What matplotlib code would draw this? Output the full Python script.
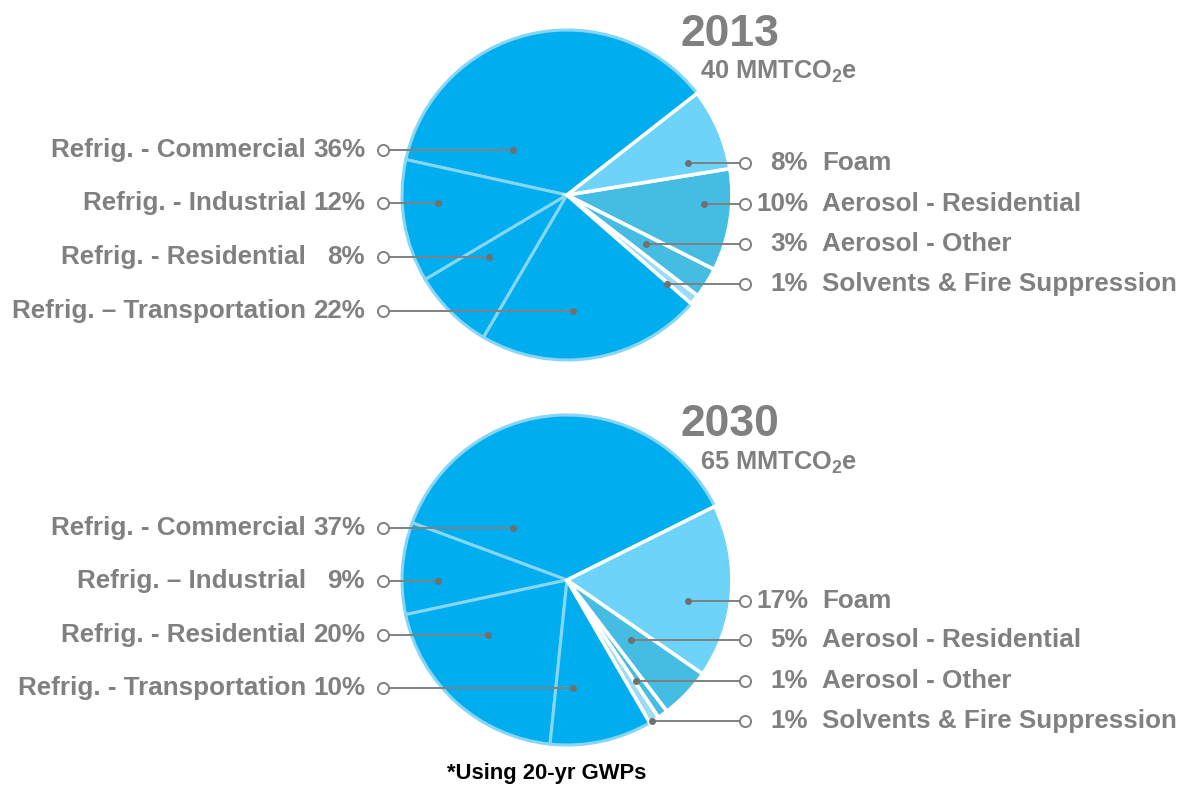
import matplotlib
matplotlib.use('Agg')
import matplotlib.pyplot as plt

plt.rcParams['font.family'] = ['Liberation Sans', 'DejaVu Sans']
plt.rcParams['font.weight'] = 'bold'
plt.rcParams['mathtext.fontset'] = 'custom'
plt.rcParams['mathtext.rm'] = 'Liberation Sans:bold'

# Data
years = ['2013', '2030']
totals = ['40 MMTCO$_\\mathrm{2}$e', '65 MMTCO$_\\mathrm{2}$e']
sectors = ['Commercial', 'Industrial', 'Residential', 'Transportation',
           'Solvents & Fire Suppression', 'Aerosol - Other', 'Aerosol - Residential', 'Foam']
share_2013 = [36, 12, 8, 22, 1, 3, 10, 8]
share_2030 = [37, 9, 20, 10, 1, 1, 5, 17]
left_names_2013 = ['Refrig. - Commercial', 'Refrig. - Industrial', 'Refrig. - Residential', 'Refrig. \u2013 Transportation']
left_names_2030 = ['Refrig. - Commercial', 'Refrig. \u2013 Industrial', 'Refrig. - Residential', 'Refrig. - Transportation']
right_names = ['Foam', 'Aerosol - Residential', 'Aerosol - Other', 'Solvents & Fire Suppression']
footnote = '*Using 20-yr GWPs'

# colours
blue = '#00aeef'
colors = [blue, blue, blue, blue, '#9adcf4', '#45bde2', '#45bde2', '#6ed3f8']
edges = ['#86d6f4'] * 4 + ['white'] * 4
gray = '#808080'
fs = 18.7

W, H = 1179, 786
fig = plt.figure(figsize=(W / 100, H / 100), dpi=100)
ax = fig.add_axes([0, 0, 1, 1])

def py(y):
    return H - y

# layout (pixel rows of the callouts)
layout = [
    dict(cy=195, start=38, title_y=35, total_y=72,
         left_y=[150, 203, 257, 311], left_dot=[513, 438, 489, 573],
         right_y=[163, 204, 244, 284], right_dot=[688, 704, 646, 667]),
    dict(cy=580, start=26.5, title_y=425, total_y=463,
         left_y=[528, 581, 635, 688], left_dot=[513, 438, 488, 573],
         right_y=[601, 640, 681, 721], right_dot=[688, 631, 636, 652]),
]
shares = [share_2013, share_2030]
left_names = [left_names_2013, left_names_2030]

for k, lay in enumerate(layout):
    vals = shares[k]
    wedges, _ = ax.pie(vals, colors=colors, startangle=lay['start'], counterclock=True,
                       center=(567, py(lay['cy'])), radius=165, frame=True)
    for w, ec in zip(wedges, edges):
        w.set_edgecolor(ec)
        w.set_linewidth(2.2 if ec != 'white' else 2.6)
    # left callouts (refrigeration, order commercial..transportation)
    for i in range(4):
        y = py(lay['left_y'][i])
        ax.plot([lay['left_dot'][i], 383], [y, y], color=gray, lw=1.4, zorder=5)
        ax.plot(lay['left_dot'][i], y, 'o', ms=4, color='#707070', zorder=6)
        ax.plot(383, y, 'o', ms=8, mfc='white', mec=gray, mew=1.4, zorder=6)
        ax.text(306, y, left_names[k][i], ha='right', va='center', fontsize=fs, color=gray)
        ax.text(365, y, '%d%%' % vals[i], ha='right', va='center', fontsize=fs, color=gray)
    # right callouts (foam, aerosol res, aerosol other, solvents)
    right_vals = [vals[7], vals[6], vals[5], vals[4]]
    for i in range(4):
        y = py(lay['right_y'][i])
        ax.plot([lay['right_dot'][i], 745], [y, y], color=gray, lw=1.4, zorder=5)
        ax.plot(lay['right_dot'][i], y, 'o', ms=4, color='#707070', zorder=6)
        ax.plot(745, y, 'o', ms=8, mfc='white', mec=gray, mew=1.4, zorder=6)
        ax.text(808, y, '%d%%' % right_vals[i], ha='right', va='center', fontsize=fs, color=gray)
        ax.text(822, y, right_names[i], ha='left', va='center', fontsize=fs, color=gray)
    ax.text(680, py(lay['title_y']), years[k], ha='left', va='center', fontsize=32, color=gray)
    ax.text(700, py(lay['total_y']), totals[k], ha='left', va='center', fontsize=18.3, color=gray)

ax.set_xlim(0, W)
ax.set_ylim(0, H)
ax.set_aspect('equal')
ax.axis('off')
ax.text(547, py(773), footnote, ha='center', va='center', fontsize=15.8, color='black')

fig.savefig('out.png', dpi=100, facecolor='white')
